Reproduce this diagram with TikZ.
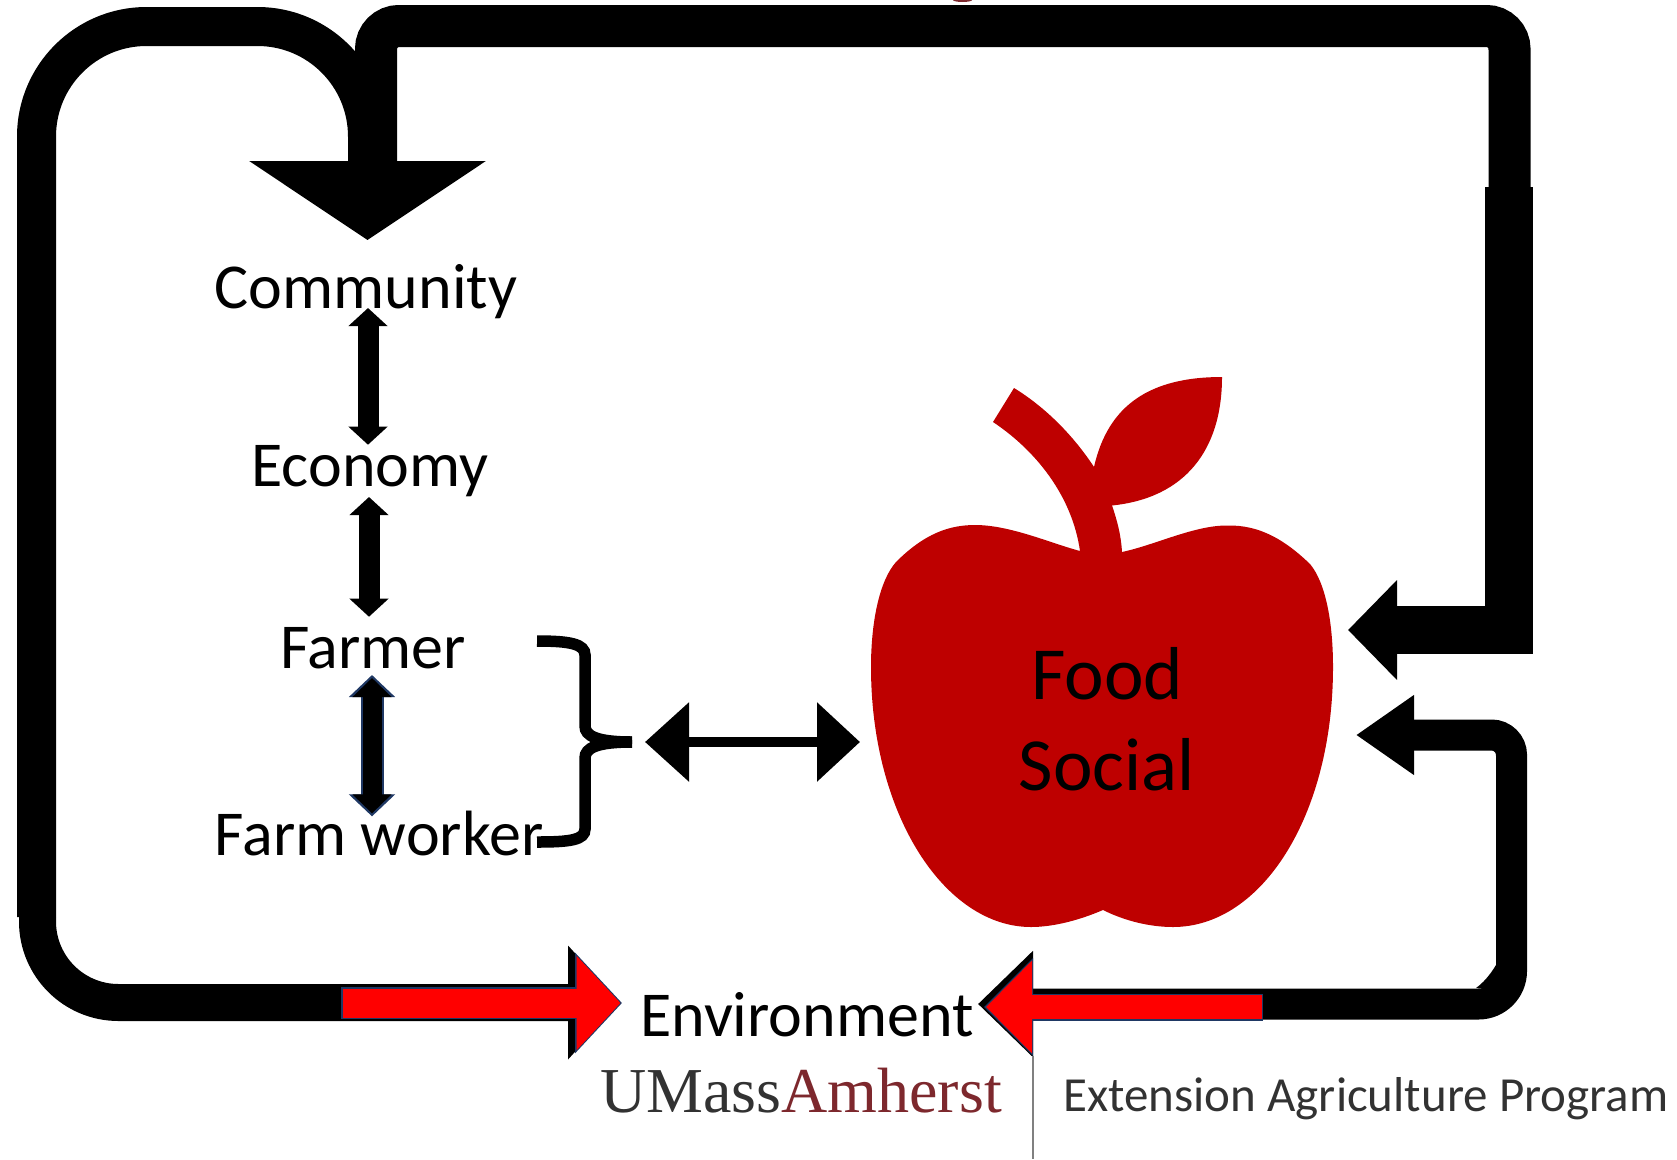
\documentclass[tikz,border=0pt]{standalone}
\usepackage{fontspec}
\setmainfont{Carlito}
\newfontfamily\logofont{Liberation Serif}
\usetikzlibrary{arrows.meta, positioning}
\definecolor{applered}{RGB}{190,0,0}
\definecolor{redarrow}{RGB}{255,0,0}
\definecolor{navyline}{RGB}{31,56,100}
\definecolor{logogray}{RGB}{50,50,50}
\definecolor{logored}{RGB}{125,40,45}

\begin{document}
\begin{tikzpicture}[x=1pt, y=-1pt,
    term/.style={inner sep=0pt, anchor=base, font=\fontsize{64}{70}\selectfont},
    loopline/.style={line width=39pt},
    smallarrow/.style={{Triangle[length=18pt,width=38pt]}-{Triangle[length=18pt,width=38pt]}, line width=21pt},
    bigtip/.style={-{Triangle[length=79pt,width=233pt]}}
]
\useasboundingbox (0,0) rectangle (1677,1159);

\fill[logored] (962.5,0) ellipse (9.5 and 2);

\draw[fill=applered, draw=none] (1103,910) .. controls (1075,922) and (1050,927) .. (1031,927)
    .. controls (945,927) and (871,815) .. (871,667)
    .. controls (871,620) and (880,580) .. (896,562)
    .. controls (925,533) and (950,525) .. (975,525)
    .. controls (1010,525) and (1050,543) .. (1080,551)
    .. controls (1072,495) and (1035,450) .. (993,422)
    -- (1014,388) .. controls (1045,407) and (1073,435) .. (1094,467)
    .. controls (1108,405) and (1150,377) .. (1222,377)
    .. controls (1222,450) and (1185,498) .. (1112,505.5)
    .. controls (1117,520) and (1121,535) .. (1122,552)
    .. controls (1155,545) and (1195,525) .. (1228,525.5)
    .. controls (1260,525) and (1285,540) .. (1310,564)
    .. controls (1325,582) and (1333,620) .. (1333,667)
    .. controls (1333,815) and (1262,927) .. (1173,927)
    .. controls (1150,927) and (1125,921) .. (1103,910) -- cycle;

\node[term] (community) at (366,308) {Community};
\node[term] (economy) at (370,486) {Economy};
\node[term] (farmer) at (373,668) {Farmer};
\node[term] (farmworker) at (379,855) {Farm worker};
\node[term] (environment) at (807,1036) {Environment};
\node[inner sep=0pt, align=center, font=\fontsize{75}{91}\selectfont] (food) at (1107,719) {Food\\Social};

\node[inner sep=0pt, anchor=base west, font=\logofont\fontsize{64}{70}\selectfont] (umass) at (600,1112) {\textcolor{logogray}{UMass}\textcolor{logored}{Amherst}};
\node[inner sep=0pt, anchor=base west, text=logogray, font=\fontsize{49}{60}\selectfont] (extension) at (1063,1111) {Extension Agriculture Program};

\coordinate (commtip) at (367.5,240);
\coordinate (envleft) at (620,1002.5);
\coordinate (envright) at (978,1004);
\coordinate (foodtop) at (1348,630);
\coordinate (foodlow) at (1356,735);
\coordinate (bracetip) at (632,742);
\coordinate (foodside) at (860,742);
\coordinate (divtop) at (1033,1056);
\coordinate (divend) at (1033,1159);

\draw[line width=42pt, rounded corners=23pt] (1509.5,187) -- (1509.5,26) -- (376,26) -- (376,170);
\draw[loopline, bigtip, rounded corners=110pt] (36.5,917) -- (36.5,26.5) -- (367.5,26.5) -- (commtip);
\draw[line width=37pt, -{Triangle[length=52pt,width=111pt]}, rounded corners=81pt] (37.5,917) -- (37.5,1002.5) -- (envleft);
\draw[line width=48pt, -{Triangle[length=49pt,width=97pt]}] (1509,187) -- (1509,630) -- (foodtop);
\draw[line width=31pt, {Triangle[length=55pt,width=103pt]}-{Triangle[length=58pt,width=76pt]}, rounded corners=33pt] (envright) -- (1511.5,1004) [rounded corners=20pt] -- (1511.5,735) -- (foodlow);
\fill (1496,965) .. controls (1490,975) and (1483,983) .. (1476,988) -- (1497,989) -- cycle;

\draw[-{Triangle[length=47pt,width=98pt]}, line width=32pt, navyline] (341,1003) -- (622,1003);
\draw[-{Triangle[length=44pt,width=92pt]}, line width=29pt, redarrow] (342.5,1003) -- (620.5,1003);
\draw[-{Triangle[length=49pt,width=95pt]}, line width=27pt, navyline] (1263,1007) -- (984,1007);
\draw[-{Triangle[length=46pt,width=90pt]}, line width=24pt, redarrow] (1261.5,1007) -- (986,1007);

\draw[smallarrow] ([xshift=2pt]community.base) -- ([xshift=2pt]community.base |- economy.north);
\draw[smallarrow] ([xshift=-1pt,yshift=-11pt]economy.base) -- ([xshift=-4pt,yshift=10pt]farmer.north);
\draw[{Triangle[length=22pt,width=45pt]}-{Triangle[length=22pt,width=45pt]}, line width=23pt, navyline] ([xshift=-1pt,yshift=-7pt]farmer.base) -- ([xshift=-7pt,yshift=-6pt]farmworker.north);
\draw[{Triangle[length=19pt,width=38pt]}-{Triangle[length=19pt,width=38pt]}, line width=19pt] ([xshift=-1pt,yshift=-10pt]farmer.base) -- ([xshift=-7pt,yshift=-3pt]farmworker.north);

\draw[line width=11.5pt, line cap=butt] (537,641) .. controls (570,641) and (585,644) .. (585,655) -- (585,726) .. controls (585,736) and (597,742) .. (bracetip);
\draw[line width=11.5pt, line cap=butt] (537,842) .. controls (570,842) and (585,840) .. (585,829) -- (585,758) .. controls (585,748) and (597,742) .. (bracetip);
\draw[{Triangle[length=44pt,width=77pt]}-{Triangle[length=43pt,width=77pt]}, line width=10pt] ([xshift=13pt]bracetip) -- (foodside);

\draw[gray, line width=1.5pt] (divtop) -- (divend);

\end{tikzpicture}
\end{document}
